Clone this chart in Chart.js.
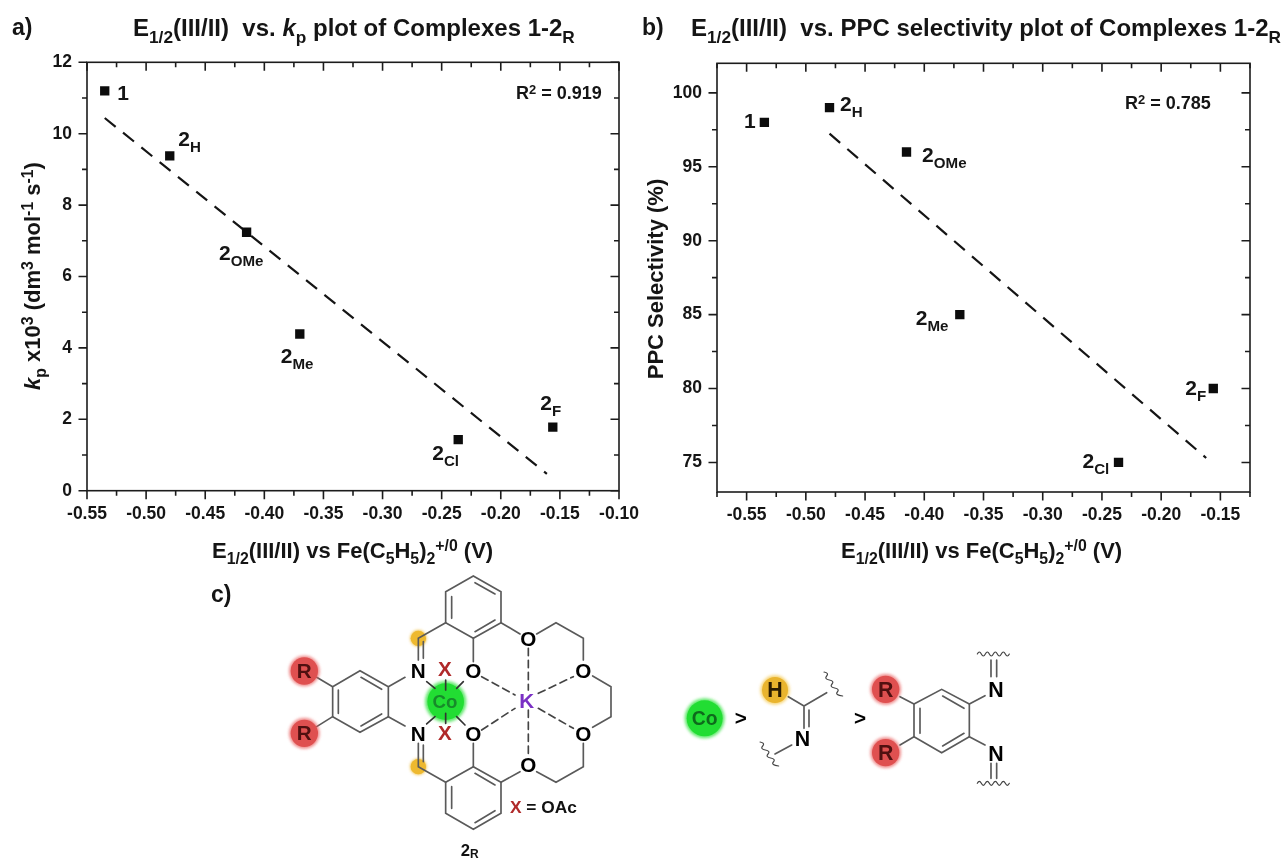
<!DOCTYPE html>
<html><head><meta charset="utf-8">
<script src="https://cdn.jsdelivr.net/npm/chart.js@4"></script>
<style>
html,body{margin:0;padding:0;background:#fff;width:1282px;height:858px;overflow:hidden}
body{position:relative;font-family:"Liberation Sans",Arial,sans-serif;font-weight:700;color:#151515}
canvas{position:absolute}
.t{position:absolute;white-space:nowrap;line-height:1}
.t sub,.t sup{line-height:0;font-size:.72em}
.t sub{vertical-align:-.4em}
.t sup{vertical-align:.42em}
svg{position:absolute;left:0;top:0}
</style></head><body>
<canvas id="ca" width="640" height="570" style="left:0;top:0"></canvas>
<canvas id="cb" width="642" height="570" style="left:640px;top:0"></canvas>
<svg width="1282" height="858" viewBox="0 0 1282 858" font-family="Liberation Sans, Arial, sans-serif" font-weight="700">
<defs>
<filter id="gl" x="-40%" y="-40%" width="180%" height="180%"><feGaussianBlur stdDeviation="4"/></filter>
</defs>
<g transform="translate(200,570) scale(.33333)" stroke="#5a5a5a" stroke-width="5" fill="none" stroke-linecap="round">
<circle cx="655" cy="205" r="24" fill="#eeb92f" stroke="none" filter="url(#gl)"/><circle cx="655" cy="205" r="23" fill="#eeb92f" stroke="none"/>
<circle cx="655" cy="590" r="24" fill="#eeb92f" stroke="none" filter="url(#gl)"/><circle cx="655" cy="590" r="23" fill="#eeb92f" stroke="none"/>
<path d="M820 18L903 65V158L820 205L737 158V65Z"/>
<path d="M755 80V145M825 38L885 72M825 185L885 150"/>
<path d="M737 158L655 205V270M670 215V265M615 322L565 350"/>
<path d="M565 350V440L480 487L398 440V350L480 302Z"/>
<path d="M483 322L545 358M415 360V430M483 468L545 432"/>
<path d="M398 350L350 322M398 440L350 470"/>
<path d="M615 468L565 440M655 520V590L737 637M670 525V575"/>
<path d="M737 637L820 590L903 637V730L820 778L737 730Z"/>
<path d="M755 650V715M825 610L885 645M825 758L885 722"/>
<path d="M820 205V275M820 590V520M903 158L960 192M1010 192L1068 158L1150 205V270M1178 318L1233 350V440L1178 472M1150 520V590L1068 637L1010 605M903 637L960 605"/>
<circle cx="737" cy="395" r="62" fill="#22e030" stroke="none" filter="url(#gl)" opacity=".7"/>
<circle cx="737" cy="395" r="55" fill="#22dd33" stroke="none"/>
<path d="M680 335L705 355M790 335L770 355M737 330V360M737 430V460M680 462L705 440M770 440L795 465" stroke="#333"/>
<path stroke-dasharray="22 14" stroke="#444" d="M845 320L945 375M845 480L945 415M985 235V360M985 420V555M1015 370L1120 320M1015 415L1120 475"/>
<circle cx="313" cy="303" r="46" fill="#e85a5a" stroke="none" filter="url(#gl)" opacity=".7"/><circle cx="313" cy="303" r="41" fill="#df5050" stroke="none"/>
<circle cx="313" cy="490" r="46" fill="#e85a5a" stroke="none" filter="url(#gl)" opacity=".7"/><circle cx="313" cy="490" r="41" fill="#df5050" stroke="none"/>
<g stroke="none" text-anchor="middle" font-size="62" fill="#000">
<text x="655" y="323">N</text><text x="655" y="512">N</text>
<text x="820" y="323">O</text><text x="820" y="512">O</text>
<text x="985" y="228">O</text><text x="985" y="607">O</text>
<text x="1150" y="323">O</text><text x="1150" y="513">O</text>
<text x="313" y="324" fill="#501010">R</text><text x="313" y="511" fill="#501010">R</text>
<text x="735" y="318" fill="#b02a2a">X</text><text x="735" y="511" fill="#b02a2a">X</text>
<text x="735" y="414" fill="#178a2a" font-size="56">Co</text>
<text x="980" y="414" fill="#7a30c4">K</text>
</g>
<text x="930" y="730" font-size="52" fill="#111" stroke="none"><tspan fill="#b02a2a">X</tspan> = OAc</text>
<text x="782" y="857" font-size="50" fill="#111" stroke="none">2<tspan font-size="36" dy="8">R</tspan></text>
</g>
<g transform="translate(660,630) scale(.33333)" stroke="#5a5a5a" stroke-width="5" fill="none" stroke-linecap="round">
<circle cx="134" cy="265" r="60" fill="#22e030" stroke="none" filter="url(#gl)" opacity=".7"/><circle cx="134" cy="265" r="54" fill="#22dd33" stroke="none"/>
<circle cx="345" cy="180" r="44" fill="#f3c23a" stroke="none" filter="url(#gl)" opacity=".7"/><circle cx="345" cy="180" r="39" fill="#e9b42e" stroke="none"/>
<circle cx="677" cy="178" r="46" fill="#e85a5a" stroke="none" filter="url(#gl)" opacity=".7"/><circle cx="677" cy="178" r="41" fill="#df5050" stroke="none"/>
<circle cx="677" cy="368" r="46" fill="#e85a5a" stroke="none" filter="url(#gl)" opacity=".7"/><circle cx="677" cy="368" r="41" fill="#df5050" stroke="none"/>
<path d="M385 200L432 228L500 188M432 228V295M447 240V290M395 345L345 372"/>
<path d="M720 200L762 222M720 345L762 320"/>
<path d="M762 222L845 178L928 222V320L845 368L762 320Z"/>
<path d="M848 198L912 235M780 235V310M848 348L912 310"/>
<path d="M928 222L975 197M928 320L975 345M993 90V140M1010 90V140M993 400V445M1010 400V445"/>
<g stroke-width="3.5" stroke="#444">
<path d="M952 72q6-12 12 0t12 0t12 0t12 0t12 0t12 0t12 0t12 0M952 460q6-12 12 0t12 0t12 0t12 0t12 0t12 0t12 0t12 0"/>
<path d="M492 126q16 3 8 12t8 12t8 12t8 12t8 12t16 12"/>
<path d="M300 336q16 3 8 12t8 12t8 12t8 12t8 12t16 12"/>
</g>
<g stroke="none" text-anchor="middle" font-size="64" fill="#000">
<text x="134" y="286" font-size="58" fill="#0e6a1c">Co</text>
<text x="345" y="202" fill="#2b1c00">H</text>
<text x="427" y="347">N</text>
<text x="677" y="200" fill="#501010">R</text><text x="677" y="390" fill="#501010">R</text>
<text x="1008" y="200">N</text><text x="1008" y="392">N</text>
<text x="242" y="285" font-size="62">&gt;</text><text x="600" y="285" font-size="62">&gt;</text>
</g>
</g>
</svg>
<script>
// ---- data ----
const complexNames = ['1','2H','2OMe','2Me','2Cl','2F'];
const potentials = [-0.535,-0.48,-0.415,-0.37,-0.236,-0.156];
const kpValues = [11.2,9.38,7.24,4.39,1.43,1.78];
const ppcValues = [98,99,96,85,75,80];
const kpFitX = [-0.535,-0.161];
const kpFitY = [10.44,0.47];
const ppcFitX = [-0.48,-0.162];
const ppcFitY = [97.24,75.3];
const kpXTickLabels = ['-0.55','-0.50','-0.45','-0.40','-0.35','-0.30','-0.25','-0.20','-0.15','-0.10'];
const kpXTicks = [-0.55,-0.525,-0.5,-0.475,-0.45,-0.425,-0.4,-0.375,-0.35,-0.325,-0.3,-0.275,-0.25,-0.225,-0.2,-0.175,-0.15,-0.125,-0.1];
const kpYTicks = [0,1,2,3,4,5,6,7,8,9,10,11,12];
const kpYTickLabels = ['0','2','4','6','8','10','12'];
const ppcXTickLabels = ['-0.55','-0.50','-0.45','-0.40','-0.35','-0.30','-0.25','-0.20','-0.15'];
const ppcXTicks = [-0.575,-0.55,-0.525,-0.5,-0.475,-0.45,-0.425,-0.4,-0.375,-0.35,-0.325,-0.3,-0.275,-0.25,-0.225,-0.2,-0.175,-0.15,-0.125];
const ppcYTicks = [75,77.5,80,82.5,85,87.5,90,92.5,95,97.5,100];
const ppcYTickLabels = ['75','80','85','90','95','100'];
// ---- label offsets from their point, in px (style only) ----
const kpOffsets = [[12.5,1],[8.5,-18],[-27.5,20],[-19,21],[-26,12],[-12.5,-25]];
const ppcOffsets = [[-20.5,-2],[10.6,-5],[15.6,2],[-44,2],[-36,-2],[-28,-2]];

const FONT='"Liberation Sans", Arial, sans-serif', INK='#151515';
const frameTicks={id:'frameTicks',afterDraw(c){
  const {ctx,chartArea:a,scales:{x,y}}=c;
  ctx.save();ctx.strokeStyle='#1c1c1c';ctx.lineWidth=1.6;
  ctx.strokeRect(a.left,a.top,a.right-a.left,a.bottom-a.top);
  ctx.beginPath();
  x.ticks.forEach(t=>{const p=x.getPixelForValue(t.value),l=t.label?8.5:5;
    ctx.moveTo(p,a.bottom);ctx.lineTo(p,a.bottom+l);ctx.moveTo(p,a.top);ctx.lineTo(p,a.top+l);});
  y.ticks.forEach(t=>{const p=y.getPixelForValue(t.value),l=t.label?8.5:5;
    ctx.moveTo(a.left,p);ctx.lineTo(a.left-l,p);ctx.moveTo(a.right,p);ctx.lineTo(a.right-l,p);});
  ctx.stroke();ctx.restore();
}};
function makeChart(id,xs,ys,fx,fy,xr,yr,xt,yt,xl,yl,pad){
  const xy=(a,b)=>a.map((v,i)=>({x:v,y:b[i]}));
  const tick={color:INK,font:{family:FONT,size:17.5,weight:'bold'},autoSkip:false,maxRotation:0,minRotation:0};
  return new Chart(document.getElementById(id),{
    type:'scatter',
    data:{datasets:[
      {label:'Complexes',data:xy(xs,ys),pointStyle:'rect',pointRadius:6.6,pointHoverRadius:6.6,backgroundColor:'#0c0c0c',borderColor:'#0c0c0c',borderWidth:0},
      {label:'Linear fit',data:xy(fx,fy),showLine:true,pointRadius:0,borderColor:'#151515',borderWidth:2.2,borderDash:[14,9.5],fill:false}
    ]},
    options:{responsive:false,animation:false,events:[],
      layout:{padding:pad},
      plugins:{legend:{display:false},title:{display:false},tooltip:{enabled:false}},
      scales:{
        x:{type:'linear',min:xr[0],max:xr[1],grid:{display:false},border:{display:false},
          afterBuildTicks:s=>{s.ticks=xt.map(v=>({value:v}));},
          afterFit:s=>{s.height=pad.xh;s.paddingLeft=0;s.paddingRight=0;},
          ticks:{...tick,padding:5,callback:v=>xl.includes(v.toFixed(2))?v.toFixed(2):''}},
        y:{type:'linear',min:yr[0],max:yr[1],grid:{display:false},border:{display:false},
          afterBuildTicks:s=>{s.ticks=yt.map(v=>({value:v}));},
          afterFit:s=>{s.width=pad.yw;s.paddingTop=0;s.paddingBottom=0;},
          ticks:{...tick,padding:7,callback:v=>yl.includes(String(v))?String(v):''}}
      }
    },
    plugins:[frameTicks]
  });
}
const chartA=makeChart('ca',potentials,kpValues,kpFitX,kpFitY,[-0.55,-0.1],[0,12],kpXTicks,kpYTicks,kpXTickLabels,kpYTickLabels,
  {left:0,top:62.3,right:21,bottom:0,xh:79.3,yw:87});
const chartB=makeChart('cb',potentials,ppcValues,ppcFitX,ppcFitY,[-0.575,-0.125],[73,102],ppcXTicks,ppcYTicks,ppcXTickLabels,ppcYTickLabels,
  {left:0,top:63.3,right:32,bottom:0,xh:78,yw:77});

function put(html,x,y,size,extra){
  const d=document.createElement('div');d.className='t';d.innerHTML=html;
  d.style.left=x+'px';d.style.top=y+'px';d.style.fontSize=size+'px';
  d.style.transform=extra||'translateY(-50%)';
  document.body.appendChild(d);return d;
}
const nameHtml=n=>n.length>1?n[0]+'<sub>'+n.slice(1)+'</sub>':n;
function placeNames(c,left,ys,offs){
  complexNames.forEach((n,i)=>{
    const px=left+c.scales.x.getPixelForValue(potentials[i])+offs[i][0];
    const py=c.scales.y.getPixelForValue(ys[i])+offs[i][1];
    put(nameHtml(n),px,py,21);
  });
}
placeNames(chartA,0,kpValues,kpOffsets);
placeNames(chartB,640,ppcValues,ppcOffsets);
put('a)',12,27,23);put('b)',642,27,23);put('c)',211,594,23);
put('E<sub>1/2</sub>(III/II)&nbsp; vs. <i>k</i><sub>p</sub> plot of Complexes 1-2<sub>R</sub>',133,28,24);
put('E<sub>1/2</sub>(III/II)&nbsp; vs. PPC selectivity plot of Complexes 1-2<sub>R</sub>',691,28,24);
const xTitle='E<sub>1/2</sub>(III/II) vs Fe(C<sub>5</sub>H<sub>5</sub>)<sub>2</sub><sup>+/0</sup> (V)';
put(xTitle,212,551,22);put(xTitle,841,551,22);
put('R<sup>2</sup> = 0.919',516,93,18);
put('R<sup>2</sup> = 0.785',1125,103,18);
const rot='translate(-50%,-50%) rotate(-90deg)';
put('<i>k</i><sub>p</sub> x10<sup>3</sup> (dm<sup>3</sup> mol<sup>-1</sup> s<sup>-1</sup>)',33,276,22,rot);
put('PPC Selectivity (%)',656,279,22,rot);
</script>
</body></html>
